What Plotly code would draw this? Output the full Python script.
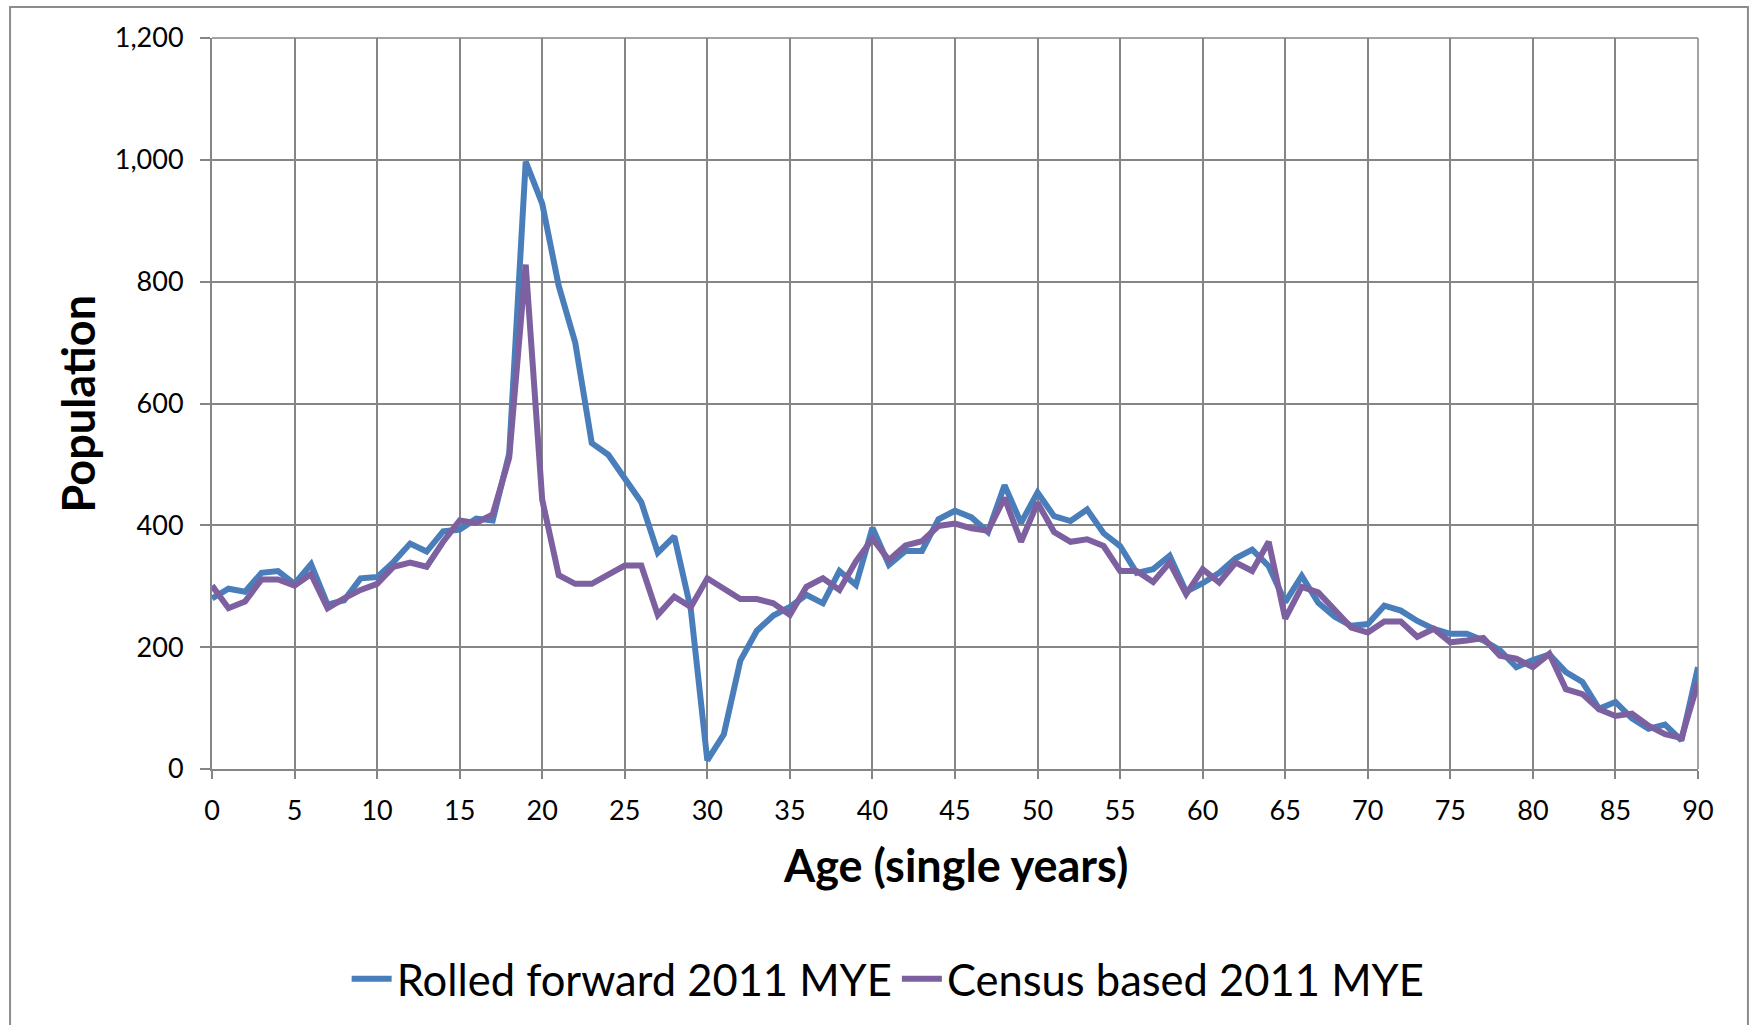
import plotly.graph_objects as go

# Single-year ages 0..90
ages = list(range(0, 91))

# Rolled forward 2011 mid-year estimate
rolled_forward = [
    280, 296, 291, 322, 325, 304, 336, 270, 277, 313,
    315, 340, 370, 357, 390, 393, 411, 408, 518, 997,
    928, 793, 700, 535, 516, 476, 438, 355, 382, 262,
    14, 57, 178, 227, 252, 266, 286, 272, 325, 302,
    396, 335, 358, 358, 410, 424, 413, 389, 466, 404,
    454, 415, 407, 426, 387, 366, 322, 328, 350, 291,
    305, 322, 346, 360, 333, 274, 317, 273, 250, 235,
    238, 268, 260, 243, 230, 222, 222, 211, 195, 167,
    179, 188, 159, 143, 99, 110, 83, 66, 73, 47,
    167,
]

# Census based 2011 mid-year estimate
census_based = [
    301, 264, 275, 311, 311, 301, 320, 264, 280, 294,
    304, 332, 339, 332, 373, 408, 404, 418, 511, 828,
    442, 318, 304, 304, 319, 334, 334, 253, 283, 266,
    313, 295, 279, 279, 272, 253, 299, 313, 294, 341,
    378, 343, 367, 374, 399, 403, 395, 391, 445, 373,
    437, 389, 373, 377, 366, 325, 325, 307, 339, 287,
    328, 306, 339, 325, 373, 247, 299, 290, 262, 232,
    224, 242, 242, 217, 230, 208, 211, 215, 186, 181,
    167, 189, 131, 123, 98, 87, 91, 71, 57, 51,
    142,
]

series_names = ["Rolled forward 2011 MYE", "Census based 2011 MYE"]
x_tick_values = list(range(0, 91, 5))
y_tick_values = list(range(0, 1201, 200))

FONT = "Lato, 'Open Sans', sans-serif"
GRID = "#858585"

fig = go.Figure()
fig.add_trace(go.Scatter(
    x=ages, y=rolled_forward, mode="lines", name=series_names[0],
    line=dict(color="#4a7ebb", width=6),
))
fig.add_trace(go.Scatter(
    x=ages, y=census_based, mode="lines", name=series_names[1],
    line=dict(color="#7d60a0", width=6),
))

fig.update_layout(
    width=1752, height=1025,
    margin=dict(l=212, r=54, t=38, b=255),
    paper_bgcolor="white", plot_bgcolor="white",
    font=dict(family=FONT, color="black", size=27),
    showlegend=True,
    legend=dict(
        orientation="h", x=0.455, xanchor="center", y=-0.2855, yanchor="middle",
        font=dict(family=FONT, size=43.5, color="black"),
        itemwidth=40, traceorder="normal", bgcolor="rgba(0,0,0,0)",
        tracegroupgap=0,
    ),
    xaxis=dict(
        range=[0, 90], tickvals=x_tick_values, ticks="outside", ticklen=8,
        tickcolor=GRID, tickwidth=1.5, showgrid=True, gridcolor=GRID, gridwidth=1.5,
        showline=True, linecolor=GRID, linewidth=2, zeroline=False,
        tickfont=dict(size=27), ticklabelstandoff=9,
    ),
    yaxis=dict(
        range=[0, 1200], tickvals=y_tick_values, tickformat=",d", ticks="outside",
        ticklen=10, tickcolor=GRID, tickwidth=1.5, showgrid=True, gridcolor=GRID,
        gridwidth=1.5, showline=True, linecolor=GRID, linewidth=2, zeroline=False,
        tickfont=dict(size=27), ticklabelstandoff=11,
    ),
    annotations=[
        dict(text="<b>Age (single years)</b>", xref="paper", yref="paper",
             x=0.5, y=-0.1311, xanchor="center", yanchor="middle",
             showarrow=False, font=dict(family=FONT, size=45)),
        dict(text="<b>Population</b>", xref="paper", yref="paper",
             x=-0.0902, y=0.5, xanchor="center", yanchor="middle",
             textangle=-90, showarrow=False, font=dict(family=FONT, size=45)),
    ],
    shapes=[
        # chart-area border
        dict(type="rect", xref="paper", yref="paper",
             x0=-0.1359, x1=1.0336, y0=-0.36, y1=1.0423,
             line=dict(color="#8c8c8c", width=2), fillcolor="rgba(0,0,0,0)",
             layer="below"),
        # top-right frame of the plot area
        dict(type="line", xref="paper", yref="paper", x0=0, x1=1, y0=1, y1=1,
             line=dict(color=GRID, width=1.5)),
        dict(type="line", xref="paper", yref="paper", x0=1, x1=1, y0=0, y1=1,
             line=dict(color=GRID, width=1.5)),
    ],
)

fig.write_html("out.html")
